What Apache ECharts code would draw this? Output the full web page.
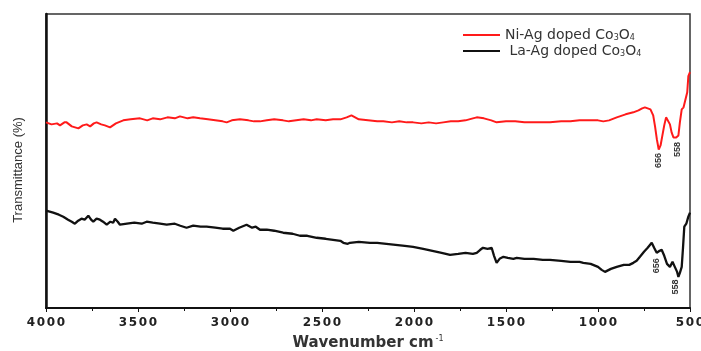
<!DOCTYPE html>
<html>
<head>
<meta charset="utf-8">
<script src="https://cdn.jsdelivr.net/npm/echarts@6/dist/echarts.min.js"></script>
<style>html,body{margin:0;padding:0;background:#fff}#c{width:701px;height:351px}</style>
</head>
<body>
<div id="c"></div>
<script>
// X tick labels (wavenumber, cm^-1)
const xTicks = [4000, 3500, 3000, 2500, 2000, 1500, 1000, 500];
const seriesNames = ['Ni-Ag doped Co3O4', 'La-Ag doped Co3O4'];
// Ni-Ag doped Co3O4 : [wavenumber, transmittance (a.u.)]
const niAg = [[4000,185],[3970,183],[3940,184],[3924,182],[3900,185],[3888,185],[3860,181],[3824,179],[3800,182],[3779,183],[3760,181],[3740,184],[3725,185],[3700,183],[3680,182],[3652,180],[3620,184],[3580,187],[3540,188],[3489,189],[3450,187],[3420,189],[3380,188],[3340,190],[3300,189],[3272,191],[3230,189],[3200,190],[3163,189],[3120,188],[3080,187],[3040,186],[3018,185],[2990,187],[2946,188],[2900,187],[2870,186],[2837,186],[2800,187],[2760,188],[2712,187],[2680,186],[2640,187],[2600,188],[2560,187],[2529,188],[2480,187],[2440,188],[2400,188],[2366,190],[2340,192],[2320,190],[2300,188],[2250,187],[2200,186],[2167,186],[2120,185],[2080,186],[2040,185],[2005,185],[1960,184],[1920,185],[1880,184],[1841,185],[1800,186],[1760,186],[1720,187],[1680,189],[1659,190],[1620,189],[1580,187],[1551,185],[1500,186],[1450,186],[1400,185],[1350,185],[1300,185],[1261,185],[1200,186],[1150,186],[1100,187],[1080,187],[1040,187],[1000,187],[971,186],[940,187],[898,190],[850,193],[808,195],[780,197],[760,199],[745,200],[730,199],[715,198],[700,192],[690,181],[680,168],[670,158],[660,162],[650,172],[640,182],[630,190],[620,190],[609,183],[600,175],[590,170],[575,170],[563,172],[555,185],[545,198],[535,200],[527,201],[515,215],[509,231],[500,235]];
// La-Ag doped Co3O4
const laAg = [[4000,97],[3980,96],[3961,95],[3930,93],[3906,91],[3880,88],[3860,86],[3843,84],[3825,87],[3807,89],[3790,88],[3770,92],[3755,88],[3743,86],[3725,89],[3707,88],[3690,86],[3670,83],[3650,86],[3635,85],[3625,89],[3610,86],[3598,83],[3560,84],[3520,85],[3480,84],[3453,86],[3420,85],[3380,84],[3344,83],[3300,84],[3270,82],[3236,80],[3200,82],[3160,81],[3127,81],[3080,80],[3040,79],[3000,79],[2982,77],[2950,80],[2910,83],[2880,80],[2860,81],[2837,78],[2800,78],[2760,77],[2711,75],[2660,74],[2620,72],[2580,72],[2529,70],[2480,69],[2440,68],[2400,67],[2384,65],[2360,64],[2348,65],[2300,66],[2239,65],[2200,65],[2150,64],[2100,63],[2050,62],[2005,61],[1950,59],[1900,57],[1850,55],[1804,53],[1760,54],[1720,55],[1680,54],[1659,55],[1640,58],[1625,60],[1600,59],[1578,60],[1565,52],[1551,45],[1535,49],[1514,51],[1490,50],[1460,49],[1442,50],[1400,49],[1350,49],[1300,48],[1261,48],[1200,47],[1150,46],[1100,46],[1080,45],[1040,44],[1000,41],[980,38],[962,36],[930,39],[898,41],[860,43],[830,43],[808,45],[790,47],[772,51],[750,56],[730,60],[708,65],[695,60],[681,55],[665,57],[654,58],[640,52],[625,44],[609,41],[595,46],[585,42],[570,36],[563,31],[555,35],[545,41],[538,60],[531,81],[520,84],[509,91],[500,95]];
// Peak annotations: [label, wavenumber, value at dip]
const niPeaks = [['656', 670, 158], ['558', 575, 170]];
const laPeaks = [['656', 654, 58], ['558', 563, 31]];

const font = 'Liberation Sans, Arial, sans-serif';
const wide = 'DejaVu Sans, sans-serif';
function peakMarks(peaks, offsets) {
  return {
    symbol: 'circle', symbolSize: 1, silent: true,
    itemStyle: {color: 'rgba(0,0,0,0)'},
    data: peaks.map((p, i) => ({
      coord: [p[1], p[2]],
      symbolOffset: offsets[i],
      label: {
        show: true, formatter: p[0], rotate: 90, fontSize: 9, fontWeight: 'bold',
        color: '#333', fontFamily: font, position: 'inside'
      }
    }))
  };
}
const chart = echarts.init(document.getElementById('c'), null, {renderer: 'canvas'});
chart.setOption({
  animation: false,
  backgroundColor: '#fff',
  grid: {left: 46, right: 11, top: 14, bottom: 43, containLabel: false, outerBoundsMode: 'none',
         show: true, borderColor: '#333', borderWidth: 1.5, backgroundColor: 'transparent'},
  legend: {
    orient: 'vertical', left: 458, top: 23, itemWidth: 37, itemHeight: 2, itemGap: 2, icon: 'rect',
    data: seriesNames,
    formatter: n => n === seriesNames[0] ? '{a|Ni-Ag doped Co}{s|3}{a|O}{s|4}' : '{a| La-Ag doped Co}{s|3}{a|O}{s|4}',
    textStyle: {
      color: '#333', fontFamily: wide,
      rich: {
        a: {fontSize: 14, color: '#333', fontFamily: wide, lineHeight: 15},
        s: {fontSize: 8, color: '#333', fontFamily: wide, lineHeight: 15, padding: [5, 0, 0, 0]}
      }
    }
  },
  xAxis: {
    type: 'value', inverse: true, min: 500, max: 4000, interval: 500,
    name: '{a|Wavenumber cm}{b|-1}', nameLocation: 'middle', nameGap: 27,
    nameTextStyle: {rich: {a: {fontSize: 15, fontWeight: 'bold', color: '#333', fontFamily: wide}, b: {fontSize: 8, color: '#333', fontFamily: wide, padding: [0, 0, 9, 2]}}},
    axisLine: {show: true, lineStyle: {color: '#111', width: 2}},
    axisTick: {show: true, length: 4, lineStyle: {color: '#111'}},
    minorTick: {show: true, splitNumber: 2, length: 3, lineStyle: {color: '#111'}},
    axisLabel: {
      margin: 9, hideOverlap: false,
      formatter: v => xTicks.includes(v) ? String(v).split('').map(d => '{d|' + d + '}').join('') : '',
      rich: {d: {fontSize: 12, fontWeight: 'bold', color: '#222', fontFamily: wide, width: 10, align: 'center'}}
    },
    splitLine: {show: false}
  },
  yAxis: {
    type: 'value', min: 0, max: 293,
    name: 'Transmittance (%)', nameLocation: 'middle', nameGap: 21,
    nameTextStyle: {fontSize: 13, color: '#333', fontFamily: font, padding: [0, 18, 0, 0]},
    axisLine: {show: true, lineStyle: {color: '#111', width: 2.5}},
    axisTick: {show: false}, axisLabel: {show: false}, splitLine: {show: false}
  },
  series: [
    {name: seriesNames[0], type: 'line', data: niAg, showSymbol: false, symbol: 'none', color: '#ff1a1a',
     lineStyle: {width: 2, color: '#ff1a1a'}, markPoint: peakMarks(niPeaks, [[0, 11], [1, 12]])},
    {name: seriesNames[1], type: 'line', data: laAg, showSymbol: false, symbol: 'none', color: '#111',
     lineStyle: {width: 2.3, color: '#111'}, markPoint: peakMarks(laPeaks, [[-5, 16], [-3, 10]])}
  ]
});
</script>
</body>
</html>
